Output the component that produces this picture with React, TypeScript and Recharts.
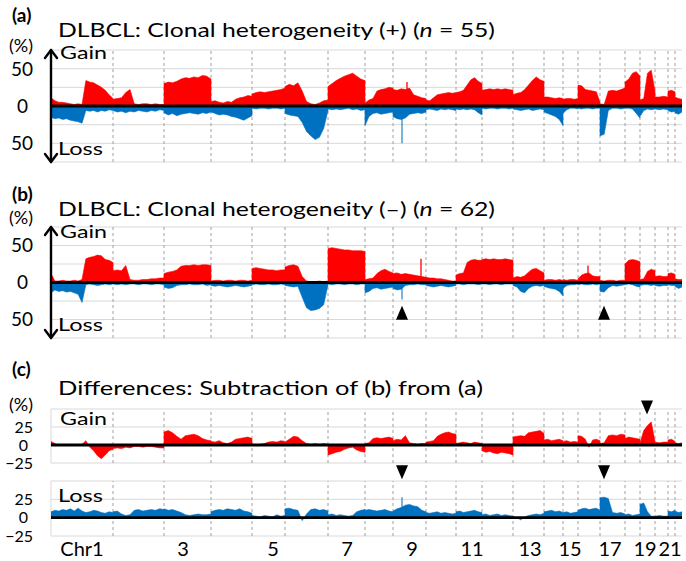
import React from 'react';
import { ComposedChart, Area, XAxis, YAxis, CartesianGrid, ReferenceLine, ReferenceDot } from 'recharts';

// chromosome boundaries along the genome axis (arbitrary genome units, chr1..chr22)
const chrEdges = [0, 62, 113, 160, 201, 234, 277, 314, 342, 375, 405, 431, 462, 493, 512, 527, 549, 574, 589, 604, 617, 624, 631];
const xTickLabels = ['Chr1', '3', '5', '7', '9', '11', '13', '15', '17', '19', '21'];
const xTickPos = [31, 132, 222, 296, 361, 421, 479, 519, 559, 594, 619];

// (a) clonal heterogeneity (+): gain / loss frequency (%) per chromosome, evenly spaced samples
const aGain = [
  [11, 7, 5, 5, 4, 3, 2, 3, 2, 34, 32, 31, 28, 25, 21, 15, 10],
  [9, 10, 11, 18, 22, 3, 2, 3, 3, 2, 3, 2, 2],
  [30, 32, 31, 33, 36, 38, 37, 39, 38, 41, 40, 36],
  [6, 7, 5, 4, 6, 5, 9, 11, 12, 14, 13],
  [16, 18, 19, 18, 19, 20, 21, 22, 24],
  [26, 29, 27, 31, 20, 6, 3, 2, 4, 7, 8],
  [26, 30, 34, 37, 40, 42, 44, 40, 36, 34],
  [4, 8, 10, 20, 22, 23, 25, 24],
  [22, 21, 23, 22, 24, 15, 13, 11, 10],
  [8, 7, 11, 15, 16, 17, 18, 17, 18],
  [18, 19, 21, 28, 35, 38, 33, 30],
  [21, 22, 23, 22, 23, 22, 23, 22, 21],
  [15, 17, 18, 22, 28, 34, 39, 35, 33],
  [12, 12, 11, 10, 11, 10],
  [9, 10, 10, 9, 10],
  [28, 27, 22, 21, 20, 19, 5],
  [3, 2, 20, 21, 20, 22, 24],
  [32, 36, 44, 46, 40],
  [8, 10, 44, 48, 20],
  [12, 12, 13, 12],
  [20, 21, 19],
  [12, 10, 9],
];
const aLoss = [
  [-15, -17, -16, -18, -17, -19, -20, -21, -23, -6, -7, -6, -8, -6, -7, -5, -6],
  [-6, -8, -7, -9, -7, -8, -6, -7, -8, -6, -7, -5, -6],
  [-9, -12, -10, -13, -11, -10, -9, -10, -11, -9, -10, -8],
  [-8, -10, -12, -11, -12, -14, -15, -17, -19, -16, -13],
  [-3, -4, -3, -3, -4, -3, -3, -4, -3],
  [-10, -12, -13, -14, -22, -34, -40, -45, -42, -30, -6],
  [-4, -5, -4, -5, -4, -3, -5, -4, -6, -5],
  [-26, -14, -10, -9, -11, -10, -9, -8],
  [-14, -17, -18, -16, -11, -10, -9, -10, -8],
  [-5, -4, -5, -6, -4, -5, -4, -5, -6],
  [-4, -5, -4, -5, -4, -5, -9, -12],
  [-3, -4, -3, -3, -4, -3, -3, -4, -3],
  [-4, -5, -6, -5, -4, -6, -5, -4, -5],
  [-8, -10, -12, -14, -18, -26],
  [-10, -5, -3, -3, -4],
  [-3, -4, -3, -3, -4, -3, -3],
  [-40, -38, -6, -3, -3, -4, -3],
  [-3, -3, -4, -10, -16],
  [-14, -6, -4, -5, -4],
  [-4, -5, -4, -5],
  [-6, -8, -7],
  [-9, -11, -8],
];
const aGainSpikes = [[356, 32]];
const aLossSpikes = [[351, -50]];

// (b) clonal heterogeneity (-)
const bGain = [
  [12, 2, 2, 3, 2, 2, 3, 2, 4, 32, 34, 35, 37, 36, 31, 30, 27],
  [16, 17, 16, 23, 4, 3, 3, 4, 4, 5, 5, 6, 6],
  [12, 14, 15, 17, 22, 23, 23, 24, 23, 24, 24, 23],
  [2, 3, 3, 2, 3, 3, 2, 3, 3, 2, 3],
  [19, 20, 19, 18, 17, 17, 16, 17, 17],
  [21, 23, 24, 22, 8, 2, 1, 1, 2, 1, 2],
  [46, 47, 46, 45, 44, 44, 43, 43, 43, 42],
  [4, 5, 6, 12, 16, 18, 15, 13],
  [12, 13, 11, 12, 11, 10, 9, 8, 7],
  [7, 6, 6, 5, 5, 4, 3, 2, 2],
  [10, 12, 13, 27, 30, 31, 30, 30],
  [31, 32, 31, 32, 31, 31, 32, 31, 30],
  [6, 8, 7, 9, 14, 18, 19, 16, 13],
  [3, 4, 4, 3, 4, 3],
  [4, 3, 4, 4, 3],
  [5, 10, 12, 13, 9, 8, 8],
  [3, 2, 3, 3, 2, 3, 3],
  [25, 30, 31, 30, 28],
  [4, 5, 15, 18, 16],
  [8, 9, 8, 8],
  [12, 13, 11],
  [5, 4, 4],
];
const bLoss = [
  [-14, -10, -12, -11, -13, -12, -14, -16, -27, -3, -2, -3, -4, -3, -2, -3, -2],
  [-2, -3, -2, -3, -2, -2, -3, -2, -2, -3, -2, -2, -3],
  [-6, -8, -7, -4, -3, -3, -2, -3, -3, -2, -4, -3],
  [-4, -5, -4, -5, -6, -5, -4, -5, -6, -5, -4],
  [-3, -2, -3, -3, -2, -3, -3, -2, -3],
  [-4, -5, -6, -5, -20, -34, -38, -37, -35, -30, -3],
  [-2, -3, -2, -2, -3, -2, -2, -3, -2, -2],
  [-14, -12, -8, -7, -9, -8, -7, -6],
  [-8, -10, -9, -4, -3, -3, -2, -3, -3],
  [-4, -5, -6, -5, -4, -5, -6, -5, -4],
  [-2, -2, -3, -2, -2, -2, -3, -2],
  [-2, -2, -3, -2, -2, -3, -2, -2, -2],
  [-4, -6, -12, -14, -8, -5, -4, -5, -4],
  [-5, -7, -8, -9, -12, -18],
  [-8, -4, -3, -3, -2],
  [-3, -2, -3, -3, -2, -3, -2],
  [-12, -13, -7, -4, -5, -4, -3],
  [-3, -2, -3, -5, -6],
  [-4, -3, -3, -4, -3],
  [-4, -5, -4, -4],
  [-3, -4, -4],
  [-5, -8, -6],
];
const bGainSpikes = [[370, 32], [537, 23]];
const bLossSpikes = [[351, -23]];
const bMarkers = [[351, -41], [553, -41]];

// (c) differences (a) - (b)
const cGain = [
  [5, 2, 0, 0, 0, 1, 0, 0, 1, 6, -3, -8, -15, -19, -14, -8, -6],
  [-5, -4, -5, -3, -4, -2, -2, -3, -2, -2, -3, -4, -4],
  [18, 20, 17, 12, 8, 13, 14, 15, 13, 9, 7, 6],
  [5, 4, 6, 3, 2, 4, 8, 9, 10, 11, 9],
  [1, 0, 1, 2, 4, 5, 4, 6, 5],
  [4, 8, 12, 11, 6, 2, 1, 2, 1, 2, 1],
  [-14, -12, -10, -9, -6, -4, -3, -7, -9, -10],
  [2, 3, 9, 10, 9, 10, 11, 9],
  [6, 8, 7, 13, 3, 2, 1, 2, 2],
  [4, 5, 6, 12, 15, 17, 18, 16, 15],
  [2, 3, 4, 3, 2, 4, 3, 2],
  [-8, -10, -9, -11, -12, -10, -11, -12, -14],
  [11, 12, 13, 12, 17, 18, 19, 20, 16],
  [7, 8, 6, 7, 8, 6],
  [5, 6, 4, 5, 4],
  [13, 12, 8, -3, 7, 8, 6],
  [2, 3, 13, 14, 13, 15, 14],
  [9, 11, 10, 9, 8],
  [3, 20, 27, 32, 5],
  [4, 3, 4, 4],
  [7, 8, 5],
  [3, 2, 3],
];
const cLoss = [
  [8, 10, 9, 11, 10, 12, 9, 13, 9, 7, 8, 10, 9, 7, 6, 8, 7],
  [8, 9, 5, 3, 4, 10, 11, 9, 10, 11, 10, 12, 11],
  [12, 10, 11, 9, 7, 4, 3, 4, 5, 4, 4, 5],
  [8, 10, 11, 10, 12, 11, 10, 12, 9, 8, 6],
  [3, 2, 1, 3, 2, 1, 4, 2, 3],
  [12, 13, 11, 10, -4, 5, 11, 12, 10, 11, 9],
  [4, 5, 3, 4, 3, 2, 3, 8, 10, 11],
  [10, 11, 10, 9, 10, 11, 9, 8],
  [9, 12, 14, 17, 18, 16, 15, 10, 8],
  [7, 6, 7, 8, 6, 7, 6, 5, 6],
  [8, 9, 7, 8, 9, 10, 8, 7],
  [4, 5, 3, 4, 5, 3, 4, 3, 2],
  [1, 0, -3, 1, 3, 4, 5, 4, 6],
  [8, 9, 10, 8, 9, 7],
  [7, 8, 6, 7, 8],
  [10, 12, 13, 11, 12, 13, 10],
  [27, 28, 26, 7, 6, 7, 5],
  [4, 5, 3, 4, 5],
  [18, 20, 8, 2, 2],
  [2, 3, 2, 2],
  [9, 8, 10],
  [9, 7, 8],
];
const cLossSpikes = [[351, 28]];
const cGainMarkers = [[596, 52]];
const cLossMarkers = [[351, 62], [553, 62]];

const abTicks = [-75, -50, -25, 0, 25, 50, 75];
const abLabels: Record<string, string> = { '50': '50', '0': '0', '-50': '50' };
const cTicks = [-25, 0, 25, 50];
const cLabels: Record<string, string> = { '25': '25', '0': '0', '-25': '\u221225' };

const FONT = 'Lato, "Open Sans", sans-serif';
const RED = '#FF0000';
const BLUE = '#0070C0';
const GRID = '#D9D9D9';
const DASH = '#A0A0A0';

function buildSeries(byChr: number[][]) {
  const out: { x: number; v: number }[] = [];
  byChr.forEach((vals, i) => {
    const s = chrEdges[i];
    const e = chrEdges[i + 1];
    const n = vals.length;
    vals.forEach((v, j) => out.push({ x: s + ((e - s) * j) / (n - 1), v }));
  });
  return out;
}

const ArrowShape = (props: any) => {
  const { x1, y1, y2 } = props;
  const top = Math.min(y1, y2);
  const bot = Math.max(y1, y2);
  return (
    <g stroke="#000" strokeWidth={2.4} fill="none" strokeLinecap="round" strokeLinejoin="round">
      <line x1={x1} y1={top} x2={x1} y2={bot} />
      <polyline points={`${x1 - 6},${top + 8} ${x1},${top} ${x1 + 6},${top + 8}`} />
      <polyline points={`${x1 - 6},${bot - 8} ${x1},${bot} ${x1 + 6},${bot - 8}`} />
    </g>
  );
};

const triangle = (dir: 'up' | 'down') => (props: any) => {
  const { cx, cy } = props;
  const h = 7;
  const w = 6;
  const pts =
    dir === 'up'
      ? `${cx},${cy - h} ${cx - w},${cy + h} ${cx + w},${cy + h}`
      : `${cx - w},${cy - h} ${cx + w},${cy - h} ${cx},${cy + h}`;
  return <polygon points={pts} fill="#000" />;
};

const makeYTick = (labels: Record<string, string>, size: number) => (props: any) => {
  const { y, payload } = props;
  const lab = labels[String(payload.value)];
  if (lab === undefined) return <g />;
  return (
    <text x={payload.value === 0 ? 28 : 33} y={y} dy="0.36em" textAnchor="end" fontFamily={FONT} fontSize={size} fill="#000">
      {lab}
    </text>
  );
};

const XTick = (props: any) => {
  const { x, y, payload } = props;
  const idx = xTickPos.indexOf(payload.value);
  return (
    <text x={x} y={y} dy="0.62em" textAnchor="middle" fontFamily={FONT} fontSize={20} fill="#000">
      {xTickLabels[idx]}
    </text>
  );
};

type PanelProps = {
  top: number;
  height: number;
  mt: number;
  mb: number;
  domain: [number, number];
  ticks: number[];
  labels: Record<string, string>;
  tickSize: number;
  gain: number[][];
  loss: number[][];
  gainSpikes: number[][];
  lossSpikes: number[][];
  markers: number[][];
  markerDir: 'up' | 'down';
  arrow: boolean;
  showX: boolean;
};

function Panel(p: PanelProps) {
  const gainData = buildSeries(p.gain);
  const lossData = buildSeries(p.loss);
  return (
    <div style={{ position: 'absolute', left: 0, top: p.top }}>
      <ComposedChart width={686} height={p.height} margin={{ top: p.mt, right: 4, bottom: p.mb, left: 0 }} style={{ overflow: 'visible' }}>
        <CartesianGrid vertical={false} stroke={GRID} strokeWidth={1} />
        <XAxis
          type="number"
          dataKey="x"
          domain={[0, 631]}
          allowDataOverflow
          hide={!p.showX}
          ticks={xTickPos}
          interval={0}
          axisLine={false}
          tickLine={false}
          height={p.showX ? 25 : 0}
          tick={<XTick />}
        />
        <YAxis
          type="number"
          domain={p.domain}
          ticks={p.ticks}
          interval={0}
          allowDataOverflow
          width={51}
          axisLine={false}
          tickLine={false}
          tick={makeYTick(p.labels, p.tickSize)}
        />
        {!p.arrow && <ReferenceLine x={0} stroke={GRID} strokeWidth={1} zIndex={40} />}
        {chrEdges.slice(1, -1).map((e) => (
          <ReferenceLine key={'b' + e} x={e} stroke={DASH} strokeWidth={1} strokeDasharray="3 3" zIndex={50} />
        ))}
        <Area data={gainData} dataKey="v" type="linear" baseValue={0} stroke={RED} strokeWidth={0.6} fill={RED} fillOpacity={1} dot={false} activeDot={false} isAnimationActive={false} />
        <Area data={lossData} dataKey="v" type="linear" baseValue={0} stroke={BLUE} strokeWidth={0.6} fill={BLUE} fillOpacity={1} dot={false} activeDot={false} isAnimationActive={false} />
        {p.gainSpikes.map((s, i) => (
          <ReferenceLine key={'gs' + i} segment={[{ x: s[0], y: 0 }, { x: s[0], y: s[1] }]} stroke={RED} strokeWidth={1.3} zIndex={550} />
        ))}
        {p.lossSpikes.map((s, i) => (
          <ReferenceLine key={'ls' + i} segment={[{ x: s[0], y: 0 }, { x: s[0], y: s[1] }]} stroke={BLUE} strokeWidth={1.3} strokeOpacity={0.8} zIndex={550} />
        ))}
        <ReferenceLine y={0} stroke="#000" strokeWidth={2.8} zIndex={600} />
        {p.arrow && <ReferenceLine x={0} stroke="#000" shape={ArrowShape} zIndex={650} />}
        {p.markers.map((m, i) => (
          <ReferenceDot key={'m' + i} x={m[0]} y={m[1]} r={7} ifOverflow="visible" shape={triangle(p.markerDir)} zIndex={700} />
        ))}
      </ComposedChart>
    </div>
  );
}

const T = (props: any) => <text fontFamily={FONT} fill="#000" {...props} />;

export default function App() {
  return (
    <div style={{ position: 'absolute', left: 0, top: 0, width: 686, height: 561, background: '#fff', overflow: 'hidden' }}>
      <Panel top={0} height={170} mt={50} mb={8} domain={[-75, 75]} ticks={abTicks} labels={abLabels} tickSize={19}
        gain={aGain} loss={aLoss} gainSpikes={aGainSpikes} lossSpikes={aLossSpikes} markers={[]} markerDir="up" arrow showX={false} />
      <Panel top={170} height={175} mt={57} mb={7} domain={[-75, 75]} ticks={abTicks} labels={abLabels} tickSize={19}
        gain={bGain} loss={bLoss} gainSpikes={bGainSpikes} lossSpikes={bLossSpikes} markers={bMarkers} markerDir="up" arrow showX={false} />
      <Panel top={340} height={140} mt={69} mb={17} domain={[-25, 50]} ticks={cTicks} labels={cLabels} tickSize={16}
        gain={cGain} loss={[]} gainSpikes={[]} lossSpikes={[]} markers={cGainMarkers} markerDir="down" arrow={false} showX={false} />
      <Panel top={455} height={106} mt={26} mb={0} domain={[-25, 50]} ticks={cTicks} labels={cLabels} tickSize={16}
        gain={[]} loss={cLoss} gainSpikes={[]} lossSpikes={cLossSpikes} markers={cLossMarkers} markerDir="down" arrow={false} showX />
      <svg width={686} height={561} style={{ position: 'absolute', left: 0, top: 0, pointerEvents: 'none' }}>
        <T x={12} y={22} fontSize={19} fontWeight="bold">(a)</T>
        <T x={58} y={37} fontSize={19} textLength={437} lengthAdjust="spacingAndGlyphs">
          DLBCL: Clonal heterogeneity  (+) (<tspan fontStyle="italic">n</tspan> = 55)
        </T>
        <T x={9} y={52} fontSize={18}>(%)</T>
        <T x={60} y={59} fontSize={18} textLength={47} lengthAdjust="spacingAndGlyphs">Gain</T>
        <T x={58} y={155} fontSize={18} textLength={45} lengthAdjust="spacingAndGlyphs">Loss</T>

        <T x={12} y={201} fontSize={19} fontWeight="bold">(b)</T>
        <T x={58} y={216} fontSize={19} textLength={437} lengthAdjust="spacingAndGlyphs">
          DLBCL: Clonal heterogeneity  (–) (<tspan fontStyle="italic">n</tspan> = 62)
        </T>
        <T x={9} y={224} fontSize={18}>(%)</T>
        <T x={60} y={238} fontSize={18} textLength={47} lengthAdjust="spacingAndGlyphs">Gain</T>
        <T x={58} y={331} fontSize={18} textLength={45} lengthAdjust="spacingAndGlyphs">Loss</T>

        <T x={12} y={376} fontSize={19} fontWeight="bold">(c)</T>
        <T x={58} y={395} fontSize={19} textLength={425} lengthAdjust="spacingAndGlyphs">
          Differences: Subtraction of (b) from (a)
        </T>
        <T x={9} y={411} fontSize={18}>(%)</T>
        <T x={60} y={425} fontSize={18} textLength={47} lengthAdjust="spacingAndGlyphs">Gain</T>
        <T x={58} y={502} fontSize={18} textLength={45} lengthAdjust="spacingAndGlyphs">Loss</T>
      </svg>
    </div>
  );
}
